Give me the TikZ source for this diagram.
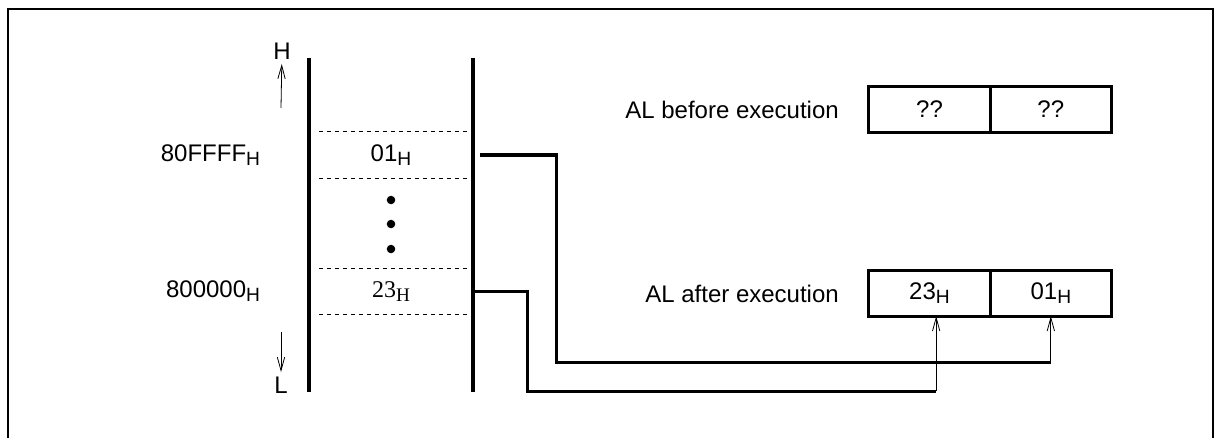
\documentclass[tikz,border=0pt]{standalone}
\usepackage{fontspec}
\setmainfont{Liberation Sans}
\newfontfamily\timesfont{Liberation Serif}
\usetikzlibrary{positioning,arrows.meta}
\newcommand{\hexH}[1]{#1\raisebox{-3pt}{\fontsize{14.4}{16}\selectfont H}}
\tikzset{%
  every node/.style={font=\fontsize{18}{22}\selectfont},
  mem cell/.style={
    minimum width=123pt,
    minimum height=34.5pt,
    inner sep=0pt
  },
  reg cell/.style={
    draw,
    line width=2.3pt,
    minimum width=91pt,
    minimum height=34pt,
    inner sep=0pt,
    outer sep=0pt
  },
  bus/.style={line width=2.3pt},
  feed/.style={line width=0.6pt, -{Straight Barb[length=10pt,width=5.5pt]}},
}

\begin{document}
\begin{tikzpicture}[x=0.75pt, y=0.75pt]
    \useasboundingbox (0,0) rectangle (1221,437);
    \draw [line width=1.6pt] (8,-5) -- (8,428) -- (1213,428) -- (1213,-5);

    % memory
    \draw [bus] (309,45) -- (309,379);
    \draw [bus] (473,45) -- (473,379);
    \node [mem cell] (m01) at (391,282) {\hexH{01}};
    \node [mem cell] (m23) at (391,145.5) {\timesfont\hexH{23}};
    \foreach \c in {m01,m23} {
      \draw [dashed, line width=0.6pt] ([xshift=8pt]\c.north west) -- (\c.north east);
      \draw [dashed, line width=0.6pt] ([xshift=8pt]\c.south west) -- (\c.south east);
    }
    \foreach \y in {237,213,188}
      \fill (391,\y) circle (3.2pt);

    \node [left=33pt of m01] (addr01) {\hexH{80FFFF}};
    \node [left=33pt of m23] (addr23) {\hexH{800000}};

    \node (hi) at (282,386) {H};
    \node (lo) at (281,52) {L};
    \coordinate (hfoot) at (281,329);
    \coordinate (lfoot) at (281,105);
    \draw [feed] (hfoot) -- (hi);
    \draw [feed] (lfoot) -- (lo);

    % AL register
    \node [reg cell] (bhi) at (929.5,327.5) {??};
    \node [reg cell, right=0pt of bhi] (blo) {??};
    \node [left=19pt of bhi] (lbefore) {AL before execution};

    \node [reg cell] (ahi) at (929.5,143.5) {\hexH{23}};
    \node [reg cell, right=0pt of ahi] (alo) {\hexH{01}};
    \node [left=19pt of ahi] (lafter) {AL after execution};

    \path (alo.south) ++(0,-46) coordinate (lojoin);
    \path ([xshift=5pt]ahi.south) ++(0,-75) coordinate (hijoin);

    \draw [bus] ([xshift=5pt]m01.east) -- ++(77,0) |- (lojoin);
    \draw [bus] (m23.east) -- ++(54,0) |- (hijoin);
    \draw [feed] (lojoin) -- (alo.south);
    \draw [feed] (hijoin) -- ([xshift=5pt]ahi.south);
\end{tikzpicture}
\end{document}
